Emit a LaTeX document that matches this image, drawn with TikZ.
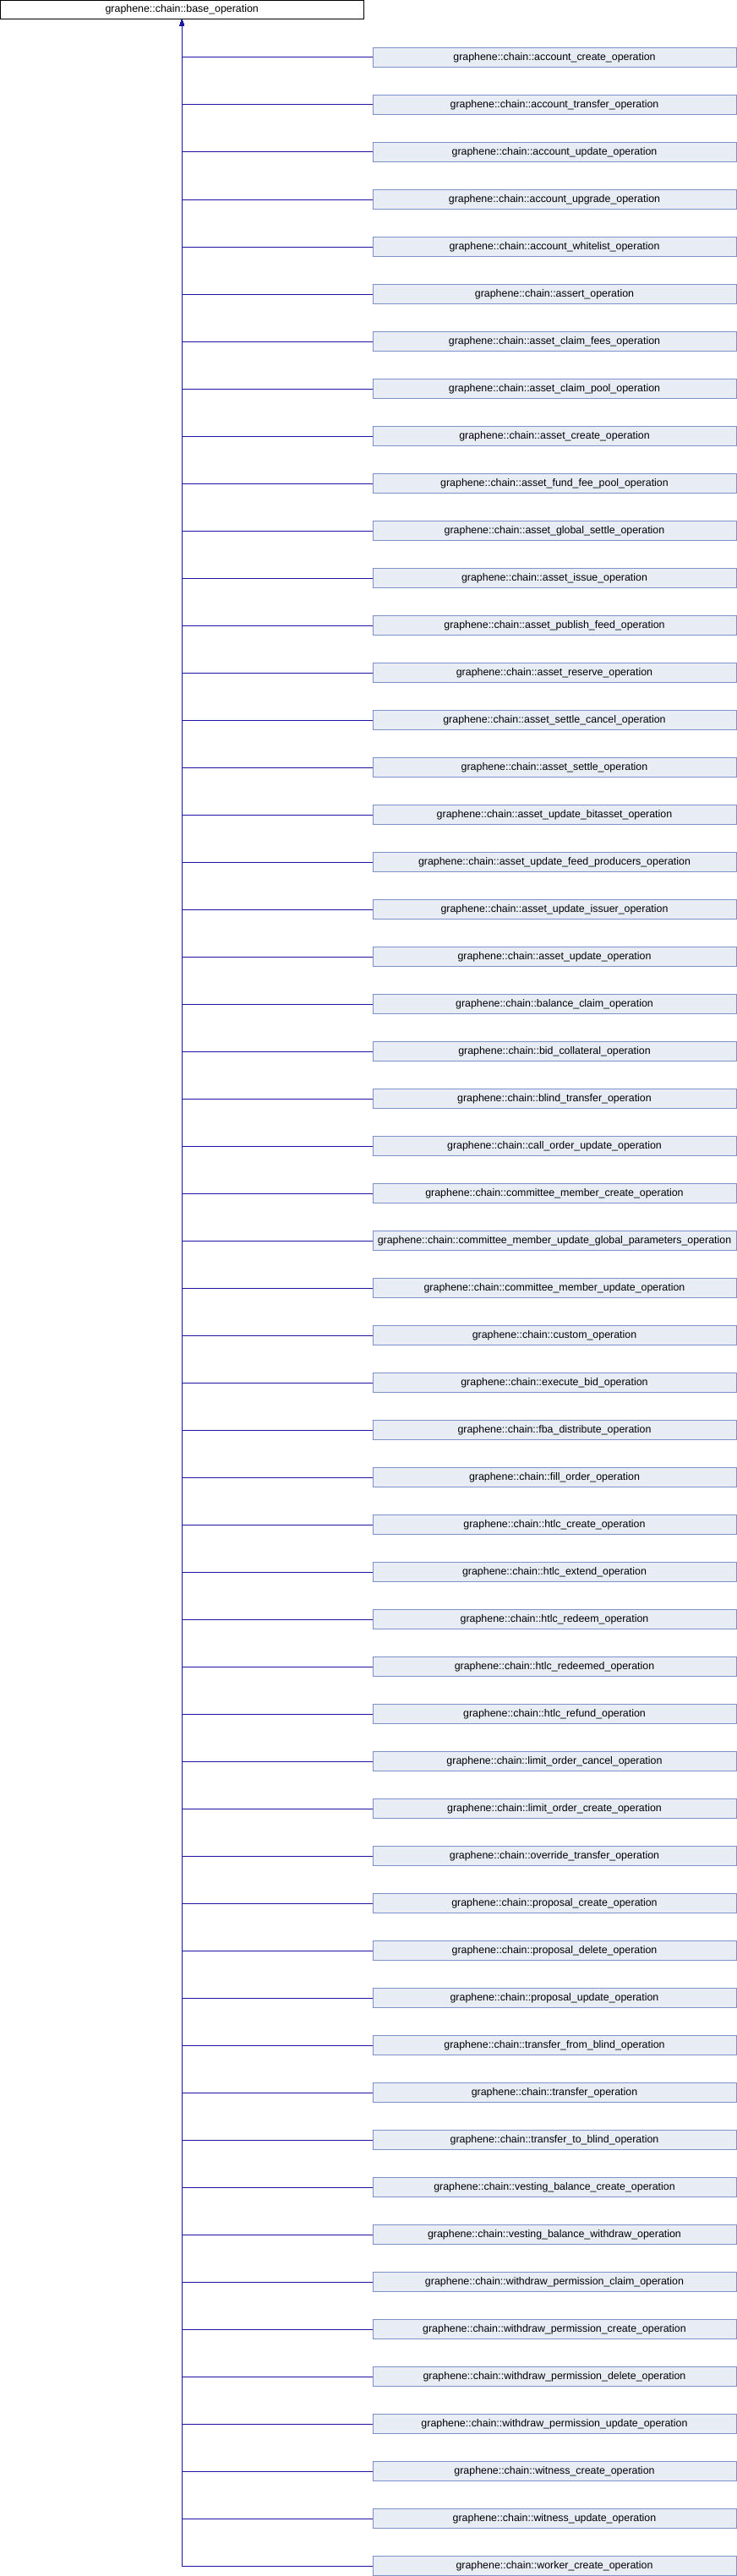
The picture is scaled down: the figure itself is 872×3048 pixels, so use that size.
\documentclass[tikz,border=0pt]{standalone}
\usepackage{fontspec}
\setmainfont{Liberation Sans}
\usetikzlibrary{arrows.meta}
\definecolor{edgeblue}{RGB}{25,25,160}
\definecolor{boxfill}{RGB}{232,236,245}
\definecolor{boxdraw}{RGB}{124,146,200}
\begin{document}
\begin{tikzpicture}[x=1pt,y=-1pt,
  basebox/.style={draw=black,fill=white,line width=1pt,minimum width=429.5pt,minimum height=22.5pt,inner sep=0pt,font=\fontsize{12.4}{14}\selectfont},
  childbox/.style={draw=boxdraw,fill=boxfill,line width=1pt,minimum width=430pt,minimum height=22.5pt,inner sep=0pt,font=\fontsize{12.4}{14}\selectfont},
  edge/.style={draw=edgeblue,line width=1pt,{Triangle[length=7pt,width=5pt]}-}]
\useasboundingbox[fill=white] (0,0) rectangle (872,3048);
\node[basebox] (base) at (215.25,11.5) {graphene::chain::base\_operation};
\foreach \n [count=\i] in {account\_create\_operation,account\_transfer\_operation,account\_update\_operation,account\_upgrade\_operation,account\_whitelist\_operation,assert\_operation,asset\_claim\_fees\_operation,asset\_claim\_pool\_operation,asset\_create\_operation,asset\_fund\_fee\_pool\_operation,asset\_global\_settle\_operation,asset\_issue\_operation,asset\_publish\_feed\_operation,asset\_reserve\_operation,asset\_settle\_cancel\_operation,asset\_settle\_operation,asset\_update\_bitasset\_operation,asset\_update\_feed\_producers\_operation,asset\_update\_issuer\_operation,asset\_update\_operation,balance\_claim\_operation,bid\_collateral\_operation,blind\_transfer\_operation,call\_order\_update\_operation,committee\_member\_create\_operation,committee\_member\_update\_global\_parameters\_operation,committee\_member\_update\_operation,custom\_operation,execute\_bid\_operation,fba\_distribute\_operation,fill\_order\_operation,htlc\_create\_operation,htlc\_extend\_operation,htlc\_redeem\_operation,htlc\_redeemed\_operation,htlc\_refund\_operation,limit\_order\_cancel\_operation,limit\_order\_create\_operation,override\_transfer\_operation,proposal\_create\_operation,proposal\_delete\_operation,proposal\_update\_operation,transfer\_from\_blind\_operation,transfer\_operation,transfer\_to\_blind\_operation,vesting\_balance\_create\_operation,vesting\_balance\_withdraw\_operation,withdraw\_permission\_claim\_operation,withdraw\_permission\_create\_operation,withdraw\_permission\_delete\_operation,withdraw\_permission\_update\_operation,witness\_create\_operation,witness\_update\_operation,worker\_create\_operation}{
  \node[childbox] (c\i) at (656,{68+56*(\i-1)}) {graphene::chain::\n};
  \draw[edge] (base.south) |- (c\i.west);
}
\end{tikzpicture}
\end{document}
